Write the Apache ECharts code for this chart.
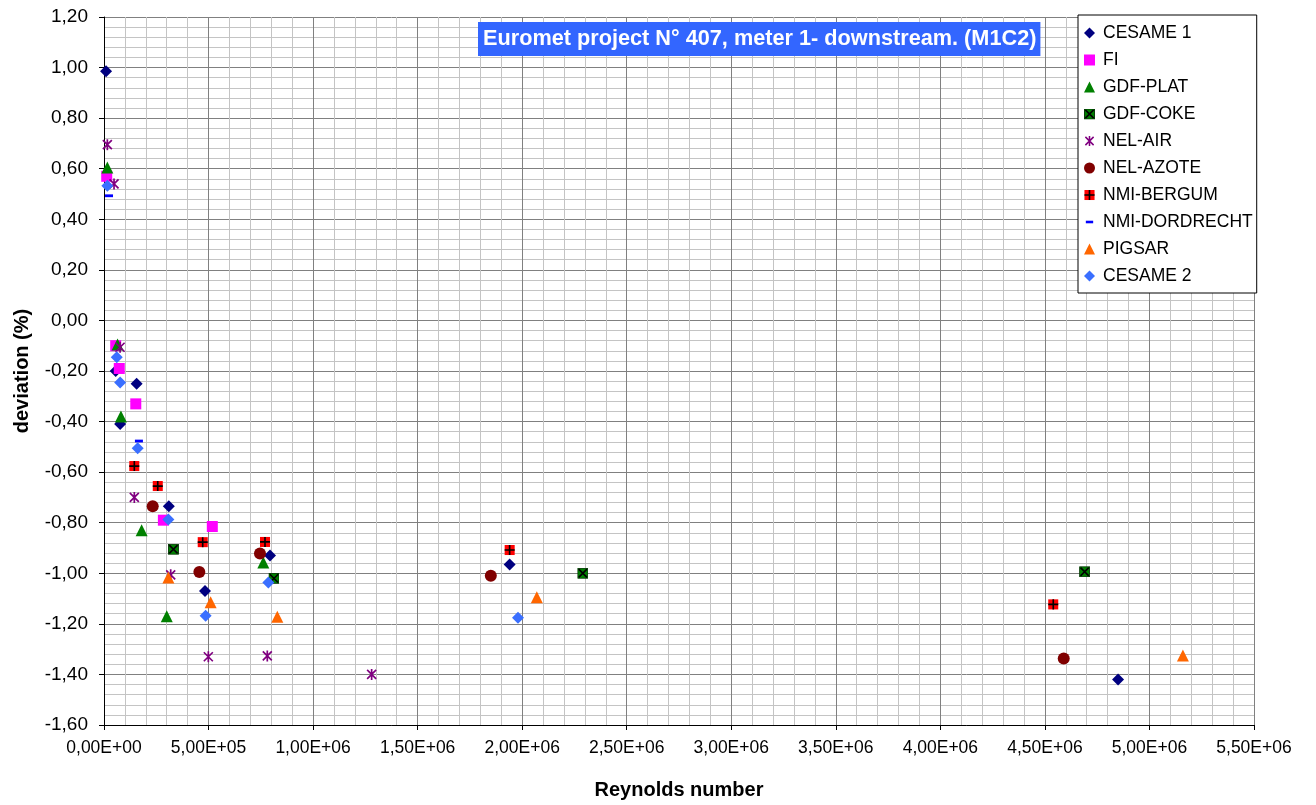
<!DOCTYPE html>
<html>
<head>
<meta charset="utf-8">
<script src="https://cdn.jsdelivr.net/npm/echarts@6/dist/echarts.min.js"></script>
<style>
  html, body { margin: 0; padding: 0; background: #ffffff; }
  #chart { width: 1316px; height: 805px; }
</style>
</head>
<body>
<div id="chart"></div>
<script>
  // values: [Reynolds number, deviation %]
  const cesame1 = [[1.0e4, 0.985], [5.6e4, -0.20], [1.56e5, -0.25], [7.7e4, -0.41], [3.1e5, -0.735],
    [4.83e5, -1.07], [7.94e5, -0.93], [1.94e6, -0.965], [4.85e6, -1.42]];
  const fi = [[1.3e4, 0.57], [5.6e4, -0.10], [7.3e4, -0.19], [1.52e5, -0.33], [2.84e5, -0.79], [5.18e5, -0.815]];
  const gdfPlat = [[1.6e4, 0.605], [6.5e4, -0.095], [8.1e4, -0.38], [1.8e5, -0.83], [3.0e5, -1.17], [7.62e5, -0.957]];
  const gdfCoke = [[3.32e5, -0.905], [8.13e5, -1.02], [2.29e6, -1.0], [4.69e6, -0.994]];
  const nelAir = [[1.6e4, 0.695], [4.8e4, 0.54], [7.7e4, -0.106], [1.45e5, -0.70], [3.19e5, -1.006],
    [4.99e5, -1.33], [7.81e5, -1.327], [1.28e6, -1.40]];
  const nelAzote = [[2.33e5, -0.735], [4.56e5, -0.995], [7.46e5, -0.922], [1.85e6, -1.01], [4.59e6, -1.337]];
  const nmiBergum = [[1.45e5, -0.576], [2.57e5, -0.655], [4.72e5, -0.877], [7.7e5, -0.876], [1.94e6, -0.908], [4.54e6, -1.123]];
  const nmiDordrecht = [[2.4e4, 0.493], [1.67e5, -0.477]];
  const pigsar = [[3.08e5, -1.017], [5.1e5, -1.115], [8.29e5, -1.172], [2.07e6, -1.095], [5.16e6, -1.325]];
  const cesame2 = [[1.6e4, 0.533], [6.1e4, -0.146], [7.7e4, -0.245], [1.61e5, -0.506], [3.08e5, -0.787],
    [4.86e5, -1.168], [7.86e5, -1.036], [1.98e6, -1.176]];

  const seriesNames = ['CESAME 1', 'FI', 'GDF-PLAT', 'GDF-COKE', 'NEL-AIR', 'NEL-AZOTE',
    'NMI-BERGUM', 'NMI-DORDRECHT', 'PIGSAR', 'CESAME 2'];
  const seriesData = [cesame1, fi, gdfPlat, gdfCoke, nelAir, nelAzote, nmiBergum, nmiDordrecht, pigsar, cesame2];
  const titleText = 'Euromet project N° 407, meter 1- downstream. (M1C2)';

  function svgIcon(body) {
    const svg = '<svg xmlns="http://www.w3.org/2000/svg" width="12" height="12" viewBox="0 0 12 12">' + body + '</svg>';
    return 'image://data:image/svg+xml;base64,' + btoa(svg);
  }

  const markers = [
    {symbol: 'diamond', size: 12, color: '#000080'},
    {symbol: 'rect', size: 11, color: '#ff00ff'},
    {symbol: 'triangle', size: 12, color: '#008000'},
    {symbol: svgIcon('<rect x="0.5" y="0.5" width="11" height="11" fill="#008000" stroke="#003300"/>' +
      '<path d="M1.5 1.5L10.5 10.5M10.5 1.5L1.5 10.5" stroke="#000" stroke-width="1.7"/>'), size: 11},
    {symbol: svgIcon('<path d="M1.5 1.5L10.5 10.5M10.5 1.5L1.5 10.5M6 0.5V11.5" stroke="#800080" stroke-width="1.7"/>'), size: 12},
    {symbol: 'circle', size: 12, color: '#800000'},
    {symbol: svgIcon('<rect x="0.5" y="0.5" width="11" height="11" fill="#ff0000"/>' +
      '<path d="M6 0.5V11.5M0.5 6H11.5" stroke="#000" stroke-width="1.8"/>'), size: 11},
    {symbol: svgIcon('<rect x="2" y="4.6" width="8" height="2.8" fill="#0000ff"/>'), size: 12},
    {symbol: 'triangle', size: 12, color: '#ff6600'},
    {symbol: 'diamond', size: 12, color: '#3a6fff'}
  ];

  function fmtSci(v) {
    if (v === 0) return '0,00E+00';
    const e = Math.floor(Math.log10(v) + 1e-9);
    const m = v / Math.pow(10, e);
    return m.toFixed(2).replace('.', ',') + 'E+' + (e < 10 ? '0' + e : e);
  }
  function fmtDev(v) {
    let r = Math.round(v * 100) / 100;
    if (Math.abs(r) < 1e-9) r = 0;
    return r.toFixed(2).replace('.', ',');
  }

  const myChart = echarts.init(document.getElementById('chart'), null, {renderer: 'canvas'});

  const series = seriesNames.map((name, i) => ({
    name: name,
    type: 'scatter',
    data: seriesData[i],
    symbol: markers[i].symbol,
    symbolSize: markers[i].size,
    itemStyle: {color: markers[i].color || '#000', opacity: 1},
    emphasis: {disabled: true},
    z: 3
  }));

  const option = {
    backgroundColor: '#ffffff',
    animation: false,
    textStyle: {fontFamily: 'Liberation Sans, Arial, sans-serif'},
    title: {
      text: titleText,
      left: 478,
      top: 22,
      backgroundColor: '#3366ff',
      padding: [6, 4, 6, 5],
      textStyle: {color: '#ffffff', fontWeight: 'bold', fontSize: 21.7, fontFamily: 'Liberation Sans, Arial, sans-serif'}
    },
    legend: {
      orient: 'vertical',
      left: 1078,
      top: 15,
      data: seriesNames,
      backgroundColor: '#ffffff',
      borderColor: '#000000',
      borderWidth: 1,
      padding: [9, 4, 8, 6],
      itemWidth: 11,
      itemHeight: 11,
      itemGap: 9,
      textStyle: {fontSize: 17.5, color: '#000', padding: [0, 0, 0, 3], lineHeight: 17}
    },
    grid: {left: 104, right: 62, top: 17, bottom: 80, containLabel: false},
    xAxis: {
      type: 'value',
      min: 0,
      max: 5500000,
      interval: 500000,
      name: 'Reynolds number',
      nameLocation: 'middle',
      nameGap: 55,
      nameTextStyle: {fontSize: 20, fontWeight: 'bold', color: '#000'},
      axisLine: {show: true, onZero: false, lineStyle: {color: '#000', width: 1}},
      axisTick: {show: true, length: 5, lineStyle: {color: '#000'}},
      minorTick: {show: true, splitNumber: 5, length: 0},
      axisLabel: {formatter: fmtSci, fontSize: 17.5, color: '#000', margin: 14},
      splitLine: {show: true, lineStyle: {color: '#808080', width: 1}},
      minorSplitLine: {show: true, lineStyle: {color: '#c4c4c4', width: 1}}
    },
    yAxis: {
      type: 'value',
      min: -1.6,
      max: 1.2,
      interval: 0.2,
      name: 'deviation (%)',
      nameLocation: 'middle',
      nameGap: 72,
      nameTextStyle: {fontSize: 20, fontWeight: 'bold', color: '#000'},
      axisLine: {show: true, onZero: false, lineStyle: {color: '#000', width: 1}},
      axisTick: {show: true, length: 5, lineStyle: {color: '#000'}},
      minorTick: {show: true, splitNumber: 5, length: 0},
      axisLabel: {formatter: fmtDev, fontSize: 19, color: '#000', margin: 16},
      splitLine: {show: true, lineStyle: {color: '#808080', width: 1}},
      minorSplitLine: {show: true, lineStyle: {color: '#c4c4c4', width: 1}}
    },
    series: series
  };

  myChart.setOption(option);
</script>
</body>
</html>
